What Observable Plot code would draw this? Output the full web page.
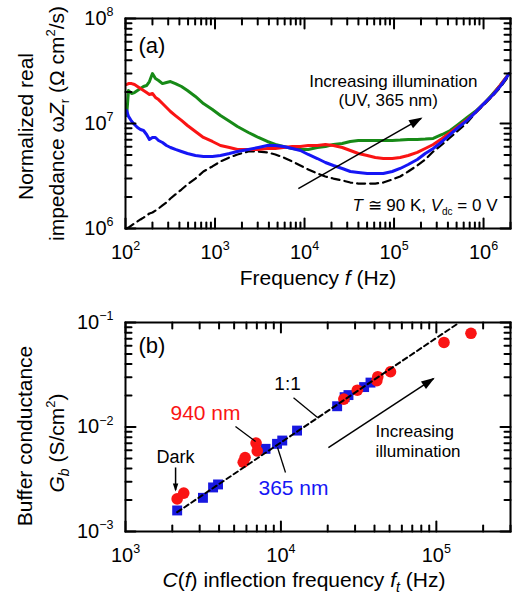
<!DOCTYPE html>
<html>
<head>
<meta charset="utf-8">
<script src="https://cdn.jsdelivr.net/npm/d3@7"></script>
<script src="https://cdn.jsdelivr.net/npm/@observablehq/plot@0.6"></script>
<style>
  html, body { margin: 0; padding: 0; background: #fff; }
  #chart svg { display: block; }
</style>
</head>
<body>
<div id="chart"></div>
<script>
// ---------------- Panel (a): normalized real impedance vs frequency ----------------
const freqA = [103,108,117,126,136,147,159,172,185,200,216,234,259,287,318,361,422,492,604,742,
  935,1150,1450,1780,2360,3050,3840,4720,5800,7310,8980,11000,13900,17100,21000,26400,32500,39900,50200,61700,
  75800,95500,117000,144000,182000,223000,274000,345000,424000,521000,656000,806000,990000,1250000,1530000,1930000];

const darkZ = [1.00e6,1.02e6,1.07e6,1.12e6,1.17e6,1.22e6,1.27e6,1.33e6,1.39e6,1.42e6,
  1.48e6,1.55e6,1.66e6,1.77e6,1.93e6,2.11e6,2.35e6,2.63e6,2.99e6,3.49e6,
  3.90e6,4.35e6,4.75e6,5.07e6,5.41e6,5.41e6,5.30e6,5.07e6,4.75e6,4.35e6,
  3.98e6,3.65e6,3.34e6,3.13e6,2.99e6,2.87e6,2.74e6,2.68e6,2.68e6,2.68e6,
  2.74e6,2.93e6,3.13e6,3.49e6,3.98e6,4.54e6,5.41e6,6.31e6,7.36e6,8.58e6,
  1.02e7,1.25e7,1.48e7,1.81e7,2.20e7,2.87e7];
const uvLowZ = [1.33e7,1.17e7,1.05e7,9.78e6,9.16e6,8.77e6,8.58e6,7.86e6,7.04e6,7.36e6,
  7.36e6,6.89e6,6.59e6,6.17e6,5.91e6,5.66e6,5.41e6,5.18e6,4.96e6,4.85e6,
  4.85e6,4.96e6,5.18e6,5.41e6,5.66e6,5.91e6,6.17e6,6.17e6,6.04e6,5.78e6,
  5.53e6,5.07e6,4.64e6,4.25e6,3.98e6,3.73e6,3.49e6,3.42e6,3.34e6,3.34e6,
  3.34e6,3.49e6,3.73e6,4.07e6,4.54e6,5.18e6,5.78e6,6.74e6,7.86e6,9.16e6,
  1.07e7,1.27e7,1.52e7,1.85e7,2.25e7,2.99e7];
const uvMidZ = [2.35e7,2.40e7,2.40e7,2.35e7,2.25e7,2.15e7,2.06e7,1.97e7,1.89e7,1.93e7,
  1.77e7,1.69e7,1.55e7,1.42e7,1.30e7,1.19e7,1.07e7,9.57e6,8.39e6,7.36e6,
  6.74e6,6.17e6,5.91e6,5.66e6,5.66e6,5.66e6,5.78e6,5.78e6,5.91e6,6.04e6,
  6.04e6,6.17e6,6.17e6,6.31e6,6.17e6,5.91e6,5.53e6,5.18e6,4.96e6,4.75e6,
  4.64e6,4.64e6,4.75e6,4.96e6,5.30e6,5.78e6,6.31e6,7.20e6,8.21e6,9.36e6,
  1.09e7,1.27e7,1.52e7,1.85e7,2.30e7,2.99e7];
const uvHighZ = [1.19e7,2.06e7,1.93e7,1.97e7,2.06e7,2.15e7,2.25e7,2.30e7,2.51e7,2.99e7,
  2.68e7,2.57e7,2.40e7,2.46e7,2.51e7,2.40e7,2.25e7,2.06e7,1.81e7,1.55e7,
  1.36e7,1.19e7,1.05e7,9.36e6,8.21e6,7.36e6,6.74e6,6.31e6,6.04e6,5.78e6,
  5.66e6,5.66e6,5.91e6,6.04e6,6.31e6,6.45e6,6.74e6,6.89e6,6.89e6,6.89e6,
  6.89e6,6.89e6,6.95e6,7.04e6,7.04e6,7.10e6,7.20e6,7.86e6,8.58e6,9.78e6,
  1.14e7,1.30e7,1.52e7,1.89e7,2.30e7,2.99e7];

const xMajorA = [1e2, 1e3, 1e4, 1e5, 1e6];
const xLabelsA = ["10^2", "10^3", "10^4", "10^5", "10^6"];
const yMajorA = [1e6, 1e7, 1e8];
const yLabelsA = ["10^6", "10^7", "10^8"];

// ---------------- Panel (b) ----------------
const nm940F = [2150, 2370, 5720, 5880, 6920, 7040, 25400, 31000, 41400, 42000, 50700, 112000, 167000];
const nm940G = [2.05e-3, 2.33e-3, 4.60e-3, 5.10e-3, 7.02e-3, 5.89e-3, 0.0185, 0.0225, 0.0277, 0.0303, 0.0338, 0.0644, 0.0788];
const nm365F = [2150, 3150, 3660, 3940, 7960, 9440, 10200, 12700, 23000, 25700, 27200, 34300, 37700];
const nm365G = [1.59e-3, 2.10e-3, 2.64e-3, 2.82e-3, 6.18e-3, 6.90e-3, 7.42e-3, 9.24e-3, 0.0158, 0.0193, 0.0202, 0.0241, 0.0266];
const oneToOneF = [2150, 135000];
const oneToOneG = [1.53e-3, 0.096];

const xMajorB = [1e3, 1e4, 1e5];
const xLabelsB = ["10^3", "10^4", "10^5"];
const yMajorB = [1e-3, 1e-2, 1e-1];
const yLabelsB = ["10^−3", "10^−2", "10^−1"];

// ---------------- annotations ----------------
const annotTextA = [
  {x: 98000, y: 2.51e7, text: "Increasing illumination"},
  {x: 86000, y: 1.66e7, text: "(UV, 365 nm)"}
];
const arrowA = [{x1: 8530, y1: 2.40e6, x2: 2.01e5, y2: 1.12e7}];
const annotB = {
  oneLabel: {x: 11030, y: 0.026, text: "1:1"},
  nm940Label: {x: 3270, y: 0.0134, text: "940 nm"},
  nm365Label: {x: 12050, y: 0.00258, text: "365 nm"},
  darkLabel: {x: 2100, y: 0.0051, text: "Dark"},
  incr1: {x: 40600, y: 0.00904, text: "Increasing"},
  incr2: {x: 40600, y: 0.00582, text: "illumination"}
};
const leadersB = [
  {x1: 12050, y1: 0.0191, x2: 17200, y2: 0.0123},
  {x1: 5100, y1: 0.0101, x2: 6870, y2: 0.00725},
  {x1: 10700, y1: 0.00367, x2: 9510, y2: 0.00636}
];
const darkArrowB = [{x1: 2100, y1: 0.0041, x2: 2100, y2: 0.00249}];
const incrArrowB = [{x1: 20200, y1: 0.00636, x2: 95900, y2: 0.029}];

// ---------------- helpers ----------------
const FONT = "Liberation Sans, Arial, Helvetica, sans-serif";
const GREEN = "#178a17", RED = "#fa1414", BLUE = "#1616f5", SQ_BLUE = "#1818e0";

function minorTicks(decades, maxV) {
  return decades.flatMap(d => [2,3,4,5,6,7,8,9].map(m => m * d)).filter(v => v <= maxV);
}

// inward frame ticks: short vectors (pixel length) anchored on the frame edges
const up = {draw(c, l) { c.moveTo(0, 0); c.lineTo(0, -l); }};
function tickMarks(xMaj, xMin, yMaj, yMin, xDom, yDom) {
  const s = {stroke: "black", strokeWidth: 2, anchor: "start", shape: up};
  const MAJ = 10, MIN = 6;
  const [x0, x1] = xDom, [y0, y1] = yDom;
  return [
    Plot.vector(xMaj, {x: d => d, y: () => y0, length: MAJ, rotate: 0, ...s}),
    Plot.vector(xMin, {x: d => d, y: () => y0, length: MIN, rotate: 0, ...s}),
    Plot.vector(xMaj, {x: d => d, y: () => y1, length: MAJ, rotate: 180, ...s}),
    Plot.vector(xMin, {x: d => d, y: () => y1, length: MIN, rotate: 180, ...s}),
    Plot.vector(yMaj, {y: d => d, x: () => x0, length: MAJ, rotate: 90, ...s}),
    Plot.vector(yMin, {y: d => d, x: () => x0, length: MIN, rotate: 90, ...s}),
    Plot.vector(yMaj, {y: d => d, x: () => x1, length: MAJ, rotate: -90, ...s}),
    Plot.vector(yMin, {y: d => d, x: () => x1, length: MIN, rotate: -90, ...s})
  ];
}
function tickLabels(xMaj, yMaj, xLab, yLab) {
  return [
    Plot.axisX(xMaj, {anchor: "bottom", tickSize: 0, tickPadding: 16, fontSize: 20, label: null,
      tickFormat: d => xLab[xMaj.indexOf(d)]}),
    Plot.axisY(yMaj, {anchor: "left", tickSize: 0, tickPadding: 12, fontSize: 20, label: null,
      tickFormat: d => yLab[yMaj.indexOf(d)]})
  ];
}

const rich = {
  "Frequency f (Hz)": 'Frequency <tspan font-style="italic">f</tspan> (Hz)',
  "impedance ωZr (Ω cm2/s)": 'impedance ω<tspan font-style="italic">Z</tspan><tspan font-size="13" dy="5">r</tspan><tspan dy="-5"> (Ω cm</tspan><tspan font-size="13" dy="-9">2</tspan><tspan dy="9">/s)</tspan>',
  "T ≅ 90 K, Vdc = 0 V": '<tspan font-style="italic">T</tspan> ≅ 90 K, <tspan font-style="italic">V</tspan><tspan font-size="10" dy="4">dc</tspan><tspan dy="-4"> = 0 V</tspan>',
  "Gb (S/cm2)": '<tspan font-style="italic">G</tspan><tspan font-size="14" font-style="italic" dy="5">b</tspan><tspan dy="-5"> (S/cm</tspan><tspan font-size="13" dy="-9">2</tspan><tspan dy="9">)</tspan>',
  "C(f) inflection frequency ft (Hz)": '<tspan font-style="italic">C</tspan>(<tspan font-style="italic">f</tspan>) inflection frequency <tspan font-style="italic">f</tspan><tspan font-size="14" font-style="italic" dy="5">t</tspan><tspan dy="-5"> (Hz)</tspan>'
};

function enrich(svg, heads) {
  d3.select(svg).selectAll("text").each(function() {
    const t = this.textContent;
    if (rich[t]) { this.innerHTML = rich[t]; return; }
    const m = /^10\^(.+)$/.exec(t);
    if (m) this.innerHTML = `10<tspan dy="-8.5" font-size="12.5">${m[1]}</tspan>`;
  });
  d3.select(svg).selectAll("marker").each(function(_, i) {
    const L = heads[i] ?? 13, W = L * 0.34;
    d3.select(this).attr("overflow", "visible").attr("fill", "black").attr("stroke", "none")
      .select("path").attr("d", `M${1.5 - L},${-W}L1.5,0L${1.5 - L},${W}Z`);
  });
}

const lbl = {fontFamily: FONT, lineAnchor: "middle"};
const rowsA = (z) => freqA.map((f, i) => ({f, v: z[i]}));
const domXA = [100, 2e6], domYA = [1e6, 1e8];
const domXB = [1e3, 3e5], domYB = [1e-3, 1e-1];

const svgA = Plot.plot({
  width: 515, height: 300,
  marginLeft: 125, marginRight: 5, marginTop: 18, marginBottom: 72,
  style: {fontFamily: FONT, fontSize: "20px"},
  x: {type: "log", domain: domXA},
  y: {type: "log", domain: domYA},
  marks: [
    Plot.line(rowsA(darkZ), {x: "f", y: "v", stroke: "black", strokeWidth: 2.2, strokeDasharray: "8,5"}),
    Plot.line(rowsA(uvHighZ), {x: "f", y: "v", stroke: GREEN, strokeWidth: 3}),
    Plot.line(rowsA(uvMidZ), {x: "f", y: "v", stroke: RED, strokeWidth: 3}),
    Plot.line(rowsA(uvLowZ), {x: "f", y: "v", stroke: BLUE, strokeWidth: 3}),
    Plot.link(arrowA, {x1: "x1", y1: "y1", x2: "x2", y2: "y2", stroke: "black", strokeWidth: 1.5, markerEnd: "arrow"}),
    Plot.text(annotTextA, {x: "x", y: "y", text: "text", fontSize: 17, textAnchor: "middle", ...lbl}),
    Plot.text(["(a)"], {frameAnchor: "top-left", dx: 13, dy: 27, textAnchor: "start", fontSize: 22, ...lbl}),
    Plot.text(["T ≅ 90 K, Vdc = 0 V"], {frameAnchor: "bottom-right", dx: -13, dy: -23, textAnchor: "end", fontSize: 17, ...lbl}),
    Plot.text(["Frequency f (Hz)"], {frameAnchor: "bottom", dy: 50, textAnchor: "middle", fontSize: 21, ...lbl}),
    Plot.text(["Normalized real"], {frameAnchor: "left", dx: -99, dy: 3, rotate: -90, textAnchor: "middle", fontSize: 21, ...lbl}),
    Plot.text(["impedance ωZr (Ω cm2/s)"], {frameAnchor: "left", dx: -68, rotate: -90, textAnchor: "middle", fontSize: 21, ...lbl}),
    Plot.frame({strokeWidth: 2}),
    ...tickMarks(xMajorA, minorTicks([1e2, 1e3, 1e4, 1e5, 1e6], 2e6), yMajorA, minorTicks([1e6, 1e7], 1e8), domXA, domYA),
    ...tickLabels(xMajorA, yMajorA, xLabelsA, yLabelsA)
  ]
});

const pts940 = nm940F.map((f, i) => ({f, g: nm940G[i]}));
const pts365 = nm365F.map((f, i) => ({f, g: nm365G[i]}));
const line11 = oneToOneF.map((f, i) => ({f, g: oneToOneG[i]}));
const txt = (o, opts) => Plot.text([o], {x: "x", y: "y", text: "text", ...lbl, ...opts});

const svgB = Plot.plot({
  width: 515, height: 298,
  marginLeft: 125, marginRight: 5, marginTop: 22, marginBottom: 67,
  style: {fontFamily: FONT, fontSize: "20px"},
  x: {type: "log", domain: domXB},
  y: {type: "log", domain: domYB},
  marks: [
    Plot.dot(pts365, {x: "f", y: "g", symbol: "square", r: 5.6, fill: SQ_BLUE}),
    Plot.dot(pts940, {x: "f", y: "g", r: 5.8, fill: RED}),
    Plot.line(line11, {x: "f", y: "g", stroke: "black", strokeWidth: 2, strokeDasharray: "5,3.5"}),
    Plot.link(leadersB, {x1: "x1", y1: "y1", x2: "x2", y2: "y2", stroke: "black", strokeWidth: 1.3}),
    Plot.link(darkArrowB, {x1: "x1", y1: "y1", x2: "x2", y2: "y2", stroke: "black", strokeWidth: 1.5, markerEnd: "arrow"}),
    Plot.link(incrArrowB, {x1: "x1", y1: "y1", x2: "x2", y2: "y2", stroke: "black", strokeWidth: 1.5, markerEnd: "arrow"}),
    txt(annotB.oneLabel, {fontSize: 19}),
    txt(annotB.nm940Label, {fontSize: 21, fill: RED}),
    txt(annotB.nm365Label, {fontSize: 21, fill: BLUE}),
    txt(annotB.darkLabel, {fontSize: 18}),
    txt(annotB.incr1, {fontSize: 17, textAnchor: "start"}),
    txt(annotB.incr2, {fontSize: 17, textAnchor: "start"}),
    Plot.text(["(b)"], {frameAnchor: "top-left", dx: 13, dy: 23, textAnchor: "start", fontSize: 22, ...lbl}),
    Plot.text(["C(f) inflection frequency ft (Hz)"], {frameAnchor: "bottom", dx: -14, dy: 49, textAnchor: "middle", fontSize: 21, ...lbl}),
    Plot.text(["Buffer conductance"], {frameAnchor: "left", dx: -100, dy: 9, rotate: -90, textAnchor: "middle", fontSize: 21, ...lbl}),
    Plot.text(["Gb (S/cm2)"], {frameAnchor: "left", dx: -68, dy: 16, rotate: -90, textAnchor: "middle", fontSize: 21, ...lbl}),
    Plot.frame({strokeWidth: 2}),
    ...tickMarks(xMajorB, minorTicks([1e3, 1e4, 1e5], 3e5), yMajorB, minorTicks([1e-3, 1e-2], 1e-1), domXB, domYB),
    ...tickLabels(xMajorB, yMajorB, xLabelsB, yLabelsB)
  ]
});

enrich(svgA, [13.5]);
enrich(svgB, [8, 13.5]);
document.getElementById("chart").append(svgA, svgB);
</script>
</body>
</html>
